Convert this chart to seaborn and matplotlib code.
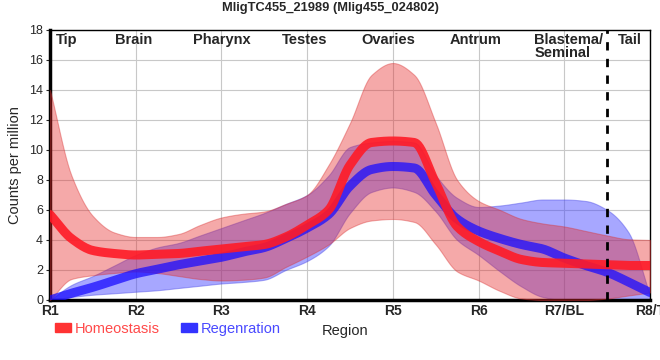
import numpy as np
import pandas as pd
import seaborn as sns
import matplotlib.pyplot as plt
from matplotlib.patches import Patch

# Posiciones de region (R1 = 1 ... R8/T = 8), leidas cada cuarto de region
region_pos = [1.0, 1.25, 1.5, 1.75, 2.0, 2.25, 2.5, 2.75, 3.0, 3.25, 3.5, 3.75, 4.0, 4.25, 4.5,
              4.75, 5.0, 5.25, 5.5, 5.75, 6.0, 6.25, 6.5, 6.75, 7.0, 7.25, 7.5, 7.75, 8.0]

# Homeostasis: media y banda
homeo_mean = [5.7, 4.1, 3.3, 3.1, 3.0, 3.05, 3.1, 3.25, 3.4, 3.55, 3.7, 4.2, 5.0, 6.0, 9.0,
              10.5, 10.6, 10.5, 7.8, 4.9, 3.9, 3.25, 2.7, 2.5, 2.45, 2.4, 2.35, 2.3, 2.3]
homeo_upper = [14.0, 8.3, 5.6, 4.5, 4.2, 4.2, 4.4, 5.0, 5.5, 5.75, 5.9, 6.4, 7.0, 9.0, 11.8,
               15.0, 15.8, 15.0, 11.8, 8.0, 6.6, 6.0, 5.4, 5.1, 4.9, 4.6, 4.3, 4.05, 4.0]
homeo_lower = [0.0, 1.4, 1.65, 1.8, 1.9, 1.8, 1.6, 1.4, 1.3, 1.35, 1.5, 2.2, 2.9, 3.7, 4.8,
               5.3, 5.4, 5.2, 3.7, 1.9, 1.3, 0.6, 0.1, 0.0, 0.0, 0.0, 0.1, 0.3, 0.5]

# Regeneracion: media y banda
regen_mean = [0.0, 0.45, 0.85, 1.3, 1.75, 2.05, 2.35, 2.6, 2.85, 3.2, 3.5, 4.1, 4.8, 5.7, 7.6,
              8.7, 8.9, 8.8, 7.0, 5.4, 4.6, 4.1, 3.7, 3.4, 2.8, 2.3, 1.85, 1.2, 0.5]
regen_upper = [0.0, 1.0, 1.6, 2.3, 3.0, 3.5, 3.8, 4.3, 4.8, 5.3, 5.8, 6.4, 7.0, 8.3, 10.2,
               10.5, 10.6, 10.5, 8.3, 6.8, 6.2, 6.3, 6.5, 6.7, 6.7, 6.6, 6.0, 4.5, 0.3]
regen_lower = [0.0, 0.2, 0.35, 0.45, 0.55, 0.65, 0.8, 0.95, 1.1, 1.2, 1.35, 2.0, 2.6, 3.6, 5.8,
               7.2, 7.5, 7.2, 5.9, 4.0, 3.0, 1.9, 0.9, 0.2, 0.0, 0.0, 0.0, 0.0, 0.0]

tick_labels = ['R1', 'R2', 'R3', 'R4', 'R5', 'R6', 'R7/BL', 'R8/T']
tissue_names = ['Tip', 'Brain', 'Pharynx', 'Testes', 'Ovaries', 'Antrum', 'Blastema/\nSeminal', 'Tail']
tissue_pos = [1.2, 1.97, 3.0, 3.97, 4.95, 5.97, 6.65, 7.77]


# Curva suave (Hermite monotona) solo para dibujar entre los puntos leidos
def suavizar(x, y, n=12):
    x = np.asarray(x, float)
    y = np.asarray(y, float)
    h = np.diff(x)
    d = np.diff(y) / h
    m = np.zeros_like(y)
    for i in range(1, len(y) - 1):
        if d[i - 1] * d[i] > 0:
            m[i] = 2 / (1 / d[i - 1] + 1 / d[i])
    m[0], m[-1] = d[0], d[-1]
    xs, ys = [], []
    for i in range(len(h)):
        t = np.linspace(0, 1, n, endpoint=False)
        h00 = 2 * t**3 - 3 * t**2 + 1
        h10 = t**3 - 2 * t**2 + t
        h01 = -2 * t**3 + 3 * t**2
        h11 = t**3 - t**2
        xs.extend(x[i] + t * h[i])
        ys.extend(h00 * y[i] + h10 * h[i] * m[i] + h01 * y[i + 1] + h11 * h[i] * m[i + 1])
    xs.append(x[-1])
    ys.append(y[-1])
    return np.array(xs), np.array(ys)


sx, homeo_mean_s = suavizar(region_pos, homeo_mean)
_, homeo_up_s = suavizar(region_pos, homeo_upper)
_, homeo_lo_s = suavizar(region_pos, homeo_lower)
_, regen_mean_s = suavizar(region_pos, regen_mean)
_, regen_up_s = suavizar(region_pos, regen_upper)
_, regen_lo_s = suavizar(region_pos, regen_lower)

# Tabla larga para seaborn
df = pd.DataFrame({
    'Region': np.concatenate([sx, sx]),
    'Counts': np.concatenate([homeo_mean_s, regen_mean_s]),
    'Condicion': ['Homeostasis'] * len(sx) + ['Regenration'] * len(sx),
})

sns.set_style('whitegrid', {'grid.color': '#c8c8c8'})
plt.rcParams['font.family'] = ['Liberation Sans', 'DejaVu Sans']

fig = plt.figure(figsize=(6.6, 3.6), dpi=100)
ax = fig.add_axes([50 / 660, 1 - 300 / 360, 600 / 660, 270 / 360])

# Bandas
ax.fill_between(sx, np.clip(regen_lo_s, 0, None), regen_up_s, color=(0.24, 0.24, 1.0), alpha=0.45,
                edgecolor=(0.3, 0.3, 0.9), linewidth=0.8, zorder=2)
ax.fill_between(sx, np.clip(homeo_lo_s, 0, None), homeo_up_s, color=(0.9, 0.16, 0.16), alpha=0.4,
                edgecolor=(0.85, 0.2, 0.2), linewidth=0.8, zorder=3)

# Lineas medias
sns.lineplot(data=df[df['Condicion'] == 'Regenration'], x='Region', y='Counts', ax=ax,
             color=(0.1, 0.05, 1.0), alpha=0.75, linewidth=6.5, zorder=4, legend=False)
sns.lineplot(data=df[df['Condicion'] == 'Homeostasis'], x='Region', y='Counts', ax=ax,
             color=(1.0, 0.1, 0.15), alpha=0.9, linewidth=6.5, zorder=5, legend=False)

# Linea discontinua de la cola
ax.axvline(7.5, color='black', linestyle=(0, (3, 3)), linewidth=2, zorder=6)

# Nombres de tejidos arriba
for nombre, pos in zip(tissue_names, tissue_pos):
    ha = 'left' if '\n' in nombre else 'center'
    ax.text(pos, 17.8, nombre, ha=ha, va='top', fontsize=10.5, fontweight='bold',
            linespacing=0.95, zorder=7)

ax.set_xlim(1, 8)
ax.set_ylim(0, 18)
ax.set_xticks(range(1, 9))
ax.set_xticklabels(tick_labels, fontweight='bold', fontsize=10)
ax.set_yticks(range(0, 19, 2))
ax.tick_params(axis='y', labelsize=9, pad=2, length=3, left=True)
ax.tick_params(axis='x', pad=3, length=0)
ax.set_xlabel('')
ax.set_ylabel('Counts per million', fontsize=10.5, labelpad=5)

for lado in ['top', 'right']:
    ax.spines[lado].set_color('black')
    ax.spines[lado].set_linewidth(1)
for lado in ['left', 'bottom']:
    ax.spines[lado].set_color('black')
    ax.spines[lado].set_linewidth(2.5)

fig.suptitle('MligTC455_21989 (Mlig455_024802)', fontsize=9.3, fontweight='bold', y=0.995)
fig.text(345 / 660, 1 - 331 / 360, 'Region', ha='center', va='center', fontsize=10.5)

manejadores = [Patch(color=(1.0, 0.2, 0.2)), Patch(color=(0.2, 0.2, 1.0))]
fig.legend(manejadores, ['Homeostasis', 'Regenration'], loc='center left',
           bbox_to_anchor=(0.083, 1 - 329 / 360), ncol=2, frameon=False, fontsize=10.5,
           labelcolor=['#ff4a4a', '#4a4aff'], handlelength=1.1, handleheight=0.55,
           handletextpad=0.3, columnspacing=1.4, borderpad=0, borderaxespad=0)

fig.savefig('out.png', dpi=100)
